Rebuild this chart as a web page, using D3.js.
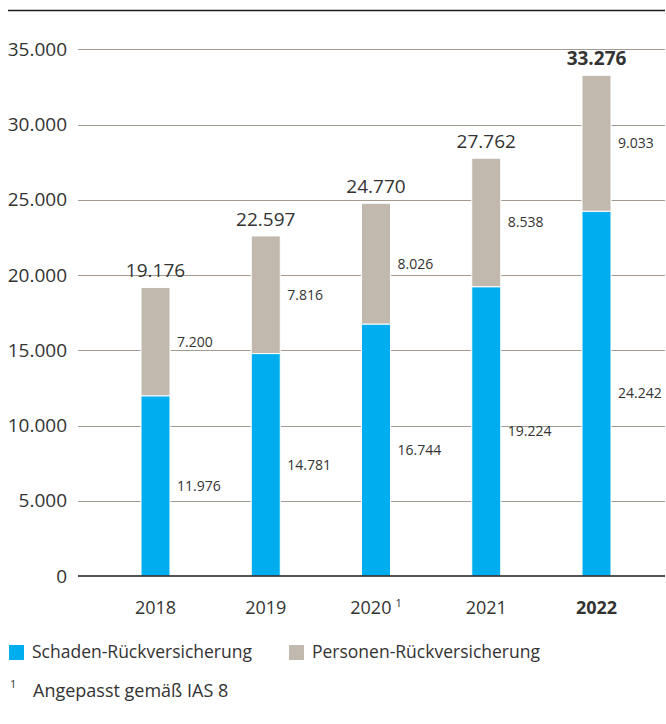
<!DOCTYPE html>
<html><head><meta charset="utf-8">
<script src="https://cdn.jsdelivr.net/npm/d3@7"></script>
<style>
html,body{margin:0;padding:0;background:#fff;}
svg{display:block;font-family:"Open Sans",sans-serif;}
</style></head>
<body>
<script>
const years = ["2018", "2019", "2020", "2021", "2022"];
const yearNotes = ["", "", "1", "", ""];
const schaden = [11976, 14781, 16744, 19224, 24242];
const personen = [7200, 7816, 8026, 8538, 9033];
const totals = [19176, 22597, 24770, 27762, 33276];
const yTicks = [0, 5000, 10000, 15000, 20000, 25000, 30000, 35000];
const seriesNames = ["Schaden-Rückversicherung", "Personen-Rückversicherung"];
const footnoteText = ["Angepasst gemäß IAS 8"];
const highlightYear = "2022";

const W = 666, H = 724;
const colors = ["#00aeef", "#c1b8ae"];
const de = d3.formatLocale({decimal: ",", thousands: ".", grouping: [3], currency: ["", " €"]});
const fmt = de.format(",");

const svg = d3.select("body").append("svg").attr("width", W).attr("height", H);

const x = d3.scaleBand().domain(years).range([141, 611]).paddingInner(0.737).paddingOuter(0);
const y = d3.scaleLinear().domain([0, 35000]).range([576, 49.3]);

// top rule
svg.append("line").attr("x1", 8).attr("x2", 665).attr("y1", 10.5).attr("y2", 10.5)
  .attr("stroke", "#1a1a1a").attr("stroke-width", 1.6);

// gridlines
svg.append("g").selectAll("line").data(yTicks.filter(d => d > 0)).join("line")
  .attr("x1", 78).attr("x2", 665)
  .attr("y1", d => Math.round(y(d)) + 0.5).attr("y2", d => Math.round(y(d)) + 0.5)
  .attr("stroke", "#a49a90").attr("stroke-width", 1);

// y labels
svg.append("g").selectAll("text").data(yTicks).join("text")
  .attr("x", 67).attr("y", d => y(d)).attr("dy", "0.35em")
  .attr("text-anchor", "end").attr("font-size", 19).attr("fill", "#333")
  .text(d => fmt(d));

// stacked data
const rows = years.map((yr, i) => ({year: yr, s: schaden[i], p: personen[i], total: totals[i]}));
const stack = d3.stack().keys(["s", "p"])(rows);

const gBars = svg.append("g");
stack.forEach((layer, li) => {
  gBars.selectAll(null).data(layer).join("rect")
    .attr("x", d => x(d.data.year))
    .attr("width", x.bandwidth())
    .attr("y", d => y(d[1]))
    .attr("height", d => y(d[0]) - y(d[1]))
    .attr("fill", colors[li])
    .attr("stroke", "#fff").attr("stroke-width", 1);
});

// baseline
svg.append("line").attr("x1", 78).attr("x2", 665).attr("y1", y(0)).attr("y2", y(0))
  .attr("stroke", "#1a1a1a").attr("stroke-width", 1.5);

// segment labels
stack.forEach((layer) => {
  svg.append("g").selectAll("text").data(layer).join("text")
    .attr("x", d => x(d.data.year) + x.bandwidth() + 7)
    .attr("y", d => (y(d[0]) + y(d[1])) / 2)
    .attr("dy", "0.35em")
    .attr("font-size", 14).attr("fill", "#333")
    .text(d => fmt(d[1] - d[0]));
});

// totals
svg.append("g").selectAll("text").data(rows).join("text")
  .attr("x", d => x(d.year) + x.bandwidth() / 2)
  .attr("y", d => y(d.total) - 10)
  .attr("text-anchor", "middle").attr("font-size", 19).attr("fill", "#333")
  .attr("font-weight", d => d.year === highlightYear ? 700 : 400)
  .text(d => fmt(d.total));

// x labels
const xl = svg.append("g").selectAll("text").data(years).join("text")
  .attr("x", d => x(d) + x.bandwidth() / 2)
  .attr("y", 614)
  .attr("text-anchor", "middle").attr("font-size", 18).attr("fill", "#333")
  .attr("font-weight", d => d === highlightYear ? 700 : 400);
xl.append("tspan").text(d => d);
xl.each(function(d, i) {
  if (yearNotes[i]) {
    d3.select(this).append("tspan").attr("dx", 4).attr("dy", -7)
      .attr("font-size", 11).text(yearNotes[i]);
  }
});

// legend
const legX = [9, 289];
seriesNames.forEach((n, i) => {
  svg.append("rect").attr("x", legX[i]).attr("y", 645).attr("width", 15).attr("height", 15)
    .attr("fill", colors[i]);
  svg.append("text").attr("x", legX[i] + 23).attr("y", 658)
    .attr("font-size", 17.5).attr("fill", "#333").text(n);
});

// footnote
svg.append("text").attr("x", 10).attr("y", 688).attr("font-size", 11).attr("fill", "#333").text("1");
svg.append("text").attr("x", 33).attr("y", 697).attr("font-size", 18).attr("fill", "#333").text(footnoteText[0]);
</script>
</body></html>
